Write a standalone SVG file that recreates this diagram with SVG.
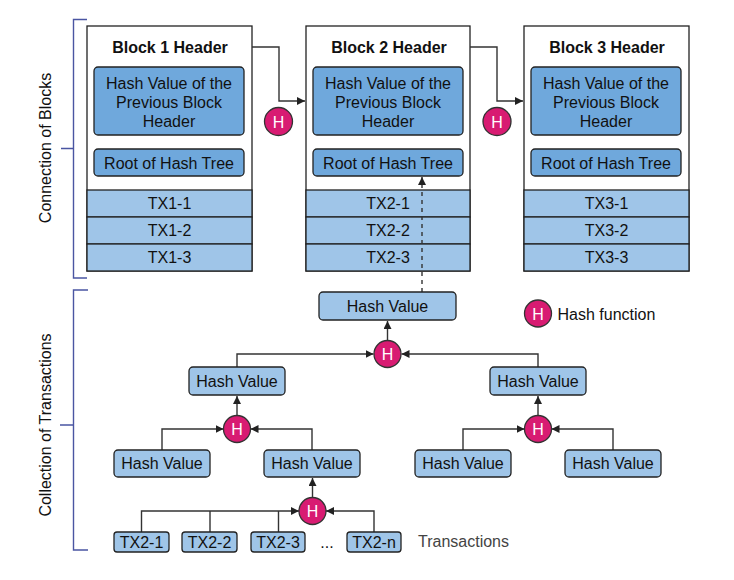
<svg xmlns="http://www.w3.org/2000/svg" width="734" height="580" viewBox="0 0 734 580">
<style>
text{font-family:"Liberation Sans",Arial,sans-serif;font-size:16px;fill:#111;}
.t{text-anchor:middle;dominant-baseline:central;}
.b{font-weight:bold;}
.blk{fill:#fff;stroke:#222;stroke-width:1.3;}
.in{fill:#6fa8dc;stroke:#222;stroke-width:1.3;}
.row{fill:#9fc5e8;stroke:#222;stroke-width:1.3;}
.hv{fill:#9fc5e8;stroke:#222;stroke-width:1.3;}
.hc{fill:#d81b72;stroke:#333;stroke-width:1.3;}
.ht{fill:#fff;text-anchor:middle;dominant-baseline:central;}
.c{fill:none;stroke:#333;stroke-width:1.4;}
.br{fill:none;stroke:#4a55a2;stroke-width:1.4;}
</style>
<defs>
<marker id="ah" viewBox="0 0 10 10" refX="10" refY="5" markerWidth="8" markerHeight="8" orient="auto" markerUnits="userSpaceOnUse"><path d="M0,0 L10,5 L0,10 z" fill="#222"/></marker>
</defs>

<g id="bracket-blocks">
<path class="br" d="M87,19.5 H73.5 V278 H87 M73.5,148.5 H61"/>
<text class="t" transform="translate(45,148) rotate(-90)">Connection of Blocks</text>
</g>
<g id="bracket-tx">
<path class="br" d="M88,290 H73.5 V550 H88 M73.5,425 H60"/>
<text class="t" transform="translate(45.5,425) rotate(-90)">Collection of Transactions</text>
</g>

<g id="block1">
<rect class="blk" x="87" y="26" width="165" height="245"/>
<text class="t b" x="170" y="47.5">Block 1 Header</text>
<rect class="in" x="94" y="67" width="150" height="68" rx="4"/>
<text class="t" x="169" y="83">Hash Value of the</text>
<text class="t" x="169" y="102">Previous Block</text>
<text class="t" x="169" y="121">Header</text>
<rect class="in" x="94" y="149" width="150" height="27" rx="4"/>
<text class="t" x="169" y="163.5">Root of Hash Tree</text>
<rect class="row" x="87" y="190" width="165" height="27"/>
<text class="t" x="169.5" y="203.5">TX1-1</text>
<rect class="row" x="87" y="217" width="165" height="27"/>
<text class="t" x="169.5" y="230.5">TX1-2</text>
<rect class="row" x="87" y="244" width="165" height="27"/>
<text class="t" x="169.5" y="257.5">TX1-3</text>
</g>

<g id="block2">
<rect class="blk" x="306" y="26" width="164" height="245"/>
<text class="t b" x="389" y="47.5">Block 2 Header</text>
<rect class="in" x="313" y="67" width="150" height="68" rx="4"/>
<text class="t" x="388" y="83">Hash Value of the</text>
<text class="t" x="388" y="102">Previous Block</text>
<text class="t" x="388" y="121">Header</text>
<rect class="in" x="313" y="149" width="150" height="27" rx="4"/>
<text class="t" x="388" y="163.5">Root of Hash Tree</text>
<rect class="row" x="306" y="190" width="164" height="27"/>
<text class="t" x="388" y="203.5">TX2-1</text>
<rect class="row" x="306" y="217" width="164" height="27"/>
<text class="t" x="388" y="230.5">TX2-2</text>
<rect class="row" x="306" y="244" width="164" height="27"/>
<text class="t" x="388" y="257.5">TX2-3</text>
</g>

<g id="block3">
<rect class="blk" x="524" y="26" width="165" height="245"/>
<text class="t b" x="607" y="47.5">Block 3 Header</text>
<rect class="in" x="531" y="67" width="150" height="68" rx="4"/>
<text class="t" x="606" y="83">Hash Value of the</text>
<text class="t" x="606" y="102">Previous Block</text>
<text class="t" x="606" y="121">Header</text>
<rect class="in" x="531" y="149" width="150" height="27" rx="4"/>
<text class="t" x="606" y="163.5">Root of Hash Tree</text>
<rect class="row" x="524" y="190" width="165" height="27"/>
<text class="t" x="606.5" y="203.5">TX3-1</text>
<rect class="row" x="524" y="217" width="165" height="27"/>
<text class="t" x="606.5" y="230.5">TX3-2</text>
<rect class="row" x="524" y="244" width="165" height="27"/>
<text class="t" x="606.5" y="257.5">TX3-3</text>
</g>

<g id="connectors">
<path class="c" d="M252,47 H279 V101 H305" marker-end="url(#ah)"/>
<path class="c" d="M470,47 H497 V101 H523" marker-end="url(#ah)"/>
<path class="c" d="M422,292 V177" stroke-dasharray="4,4" marker-end="url(#ah)"/>
<path class="c" d="M387.5,340.5 V321" marker-end="url(#ah)"/>
<path class="c" d="M237,367 V354 H373.5" marker-end="url(#ah)"/>
<path class="c" d="M538,367 V354 H401.5" marker-end="url(#ah)"/>
<path class="c" d="M237,415.5 V396" marker-end="url(#ah)"/>
<path class="c" d="M162,450 V429 H223.5" marker-end="url(#ah)"/>
<path class="c" d="M312,450 V429 H250.5" marker-end="url(#ah)"/>
<path class="c" d="M538,415.5 V396" marker-end="url(#ah)"/>
<path class="c" d="M463,450 V429 H524.5" marker-end="url(#ah)"/>
<path class="c" d="M613,450 V429 H551.5" marker-end="url(#ah)"/>
<path class="c" d="M312.5,497.5 V478" marker-end="url(#ah)"/>
<path class="c" d="M141.5,532 V511 H299" marker-end="url(#ah)"/>
<path class="c" d="M210,532 V511 M278.5,532 V511"/>
<path class="c" d="M374,532 V511 H326" marker-end="url(#ah)"/>
</g>

<g id="hash-b12"><circle class="hc" cx="278.5" cy="121.5" r="14"/><text class="ht" x="278.5" y="122">H</text></g>
<g id="hash-b23"><circle class="hc" cx="497" cy="121.5" r="14"/><text class="ht" x="497" y="122">H</text></g>

<g id="root-hash"><rect class="hv" x="319" y="292" width="137" height="28" rx="4"/><text class="t" x="387.5" y="306">Hash Value</text></g>
<g id="hash-top"><circle class="hc" cx="387.5" cy="354" r="13.5"/><text class="ht" x="387.5" y="354.5">H</text></g>

<g id="hv-l2-left"><rect class="hv" x="189" y="367" width="96" height="28" rx="4"/><text class="t" x="237" y="381">Hash Value</text></g>
<g id="hv-l2-right"><rect class="hv" x="490" y="367" width="96" height="28" rx="4"/><text class="t" x="538" y="381">Hash Value</text></g>
<g id="hash-l2-left"><circle class="hc" cx="237" cy="429" r="13.5"/><text class="ht" x="237" y="429.5">H</text></g>
<g id="hash-l2-right"><circle class="hc" cx="538" cy="429" r="13.5"/><text class="ht" x="538" y="429.5">H</text></g>

<g id="hv-l3-1"><rect class="hv" x="114" y="450" width="96" height="27" rx="4"/><text class="t" x="162" y="463.5">Hash Value</text></g>
<g id="hv-l3-2"><rect class="hv" x="264" y="450" width="96" height="27" rx="4"/><text class="t" x="312" y="463.5">Hash Value</text></g>
<g id="hv-l3-3"><rect class="hv" x="415" y="450" width="96" height="27" rx="4"/><text class="t" x="463" y="463.5">Hash Value</text></g>
<g id="hv-l3-4"><rect class="hv" x="565" y="450" width="96" height="27" rx="4"/><text class="t" x="613" y="463.5">Hash Value</text></g>

<g id="hash-bottom"><circle class="hc" cx="312.5" cy="511" r="13.5"/><text class="ht" x="312.5" y="511.5">H</text></g>

<g id="tx2-1"><rect class="hv" x="114" y="532" width="55" height="20" rx="3"/><text class="t" x="141.5" y="542">TX2-1</text></g>
<g id="tx2-2"><rect class="hv" x="182" y="532" width="55" height="20" rx="3"/><text class="t" x="209.5" y="542">TX2-2</text></g>
<g id="tx2-3"><rect class="hv" x="251" y="532" width="54" height="20" rx="3"/><text class="t" x="278" y="542">TX2-3</text></g>
<text class="t" x="327" y="542">...</text>
<g id="tx2-n"><rect class="hv" x="347" y="532" width="54" height="20" rx="3"/><text class="t" x="374" y="542">TX2-n</text></g>
<text x="418" y="541" dominant-baseline="central" style="fill:#444">Transactions</text>

<g id="legend"><circle class="hc" cx="538" cy="313.5" r="13.5"/><text class="ht" x="538" y="314">H</text><text x="557.5" y="314" dominant-baseline="central">Hash function</text></g>
</svg>
